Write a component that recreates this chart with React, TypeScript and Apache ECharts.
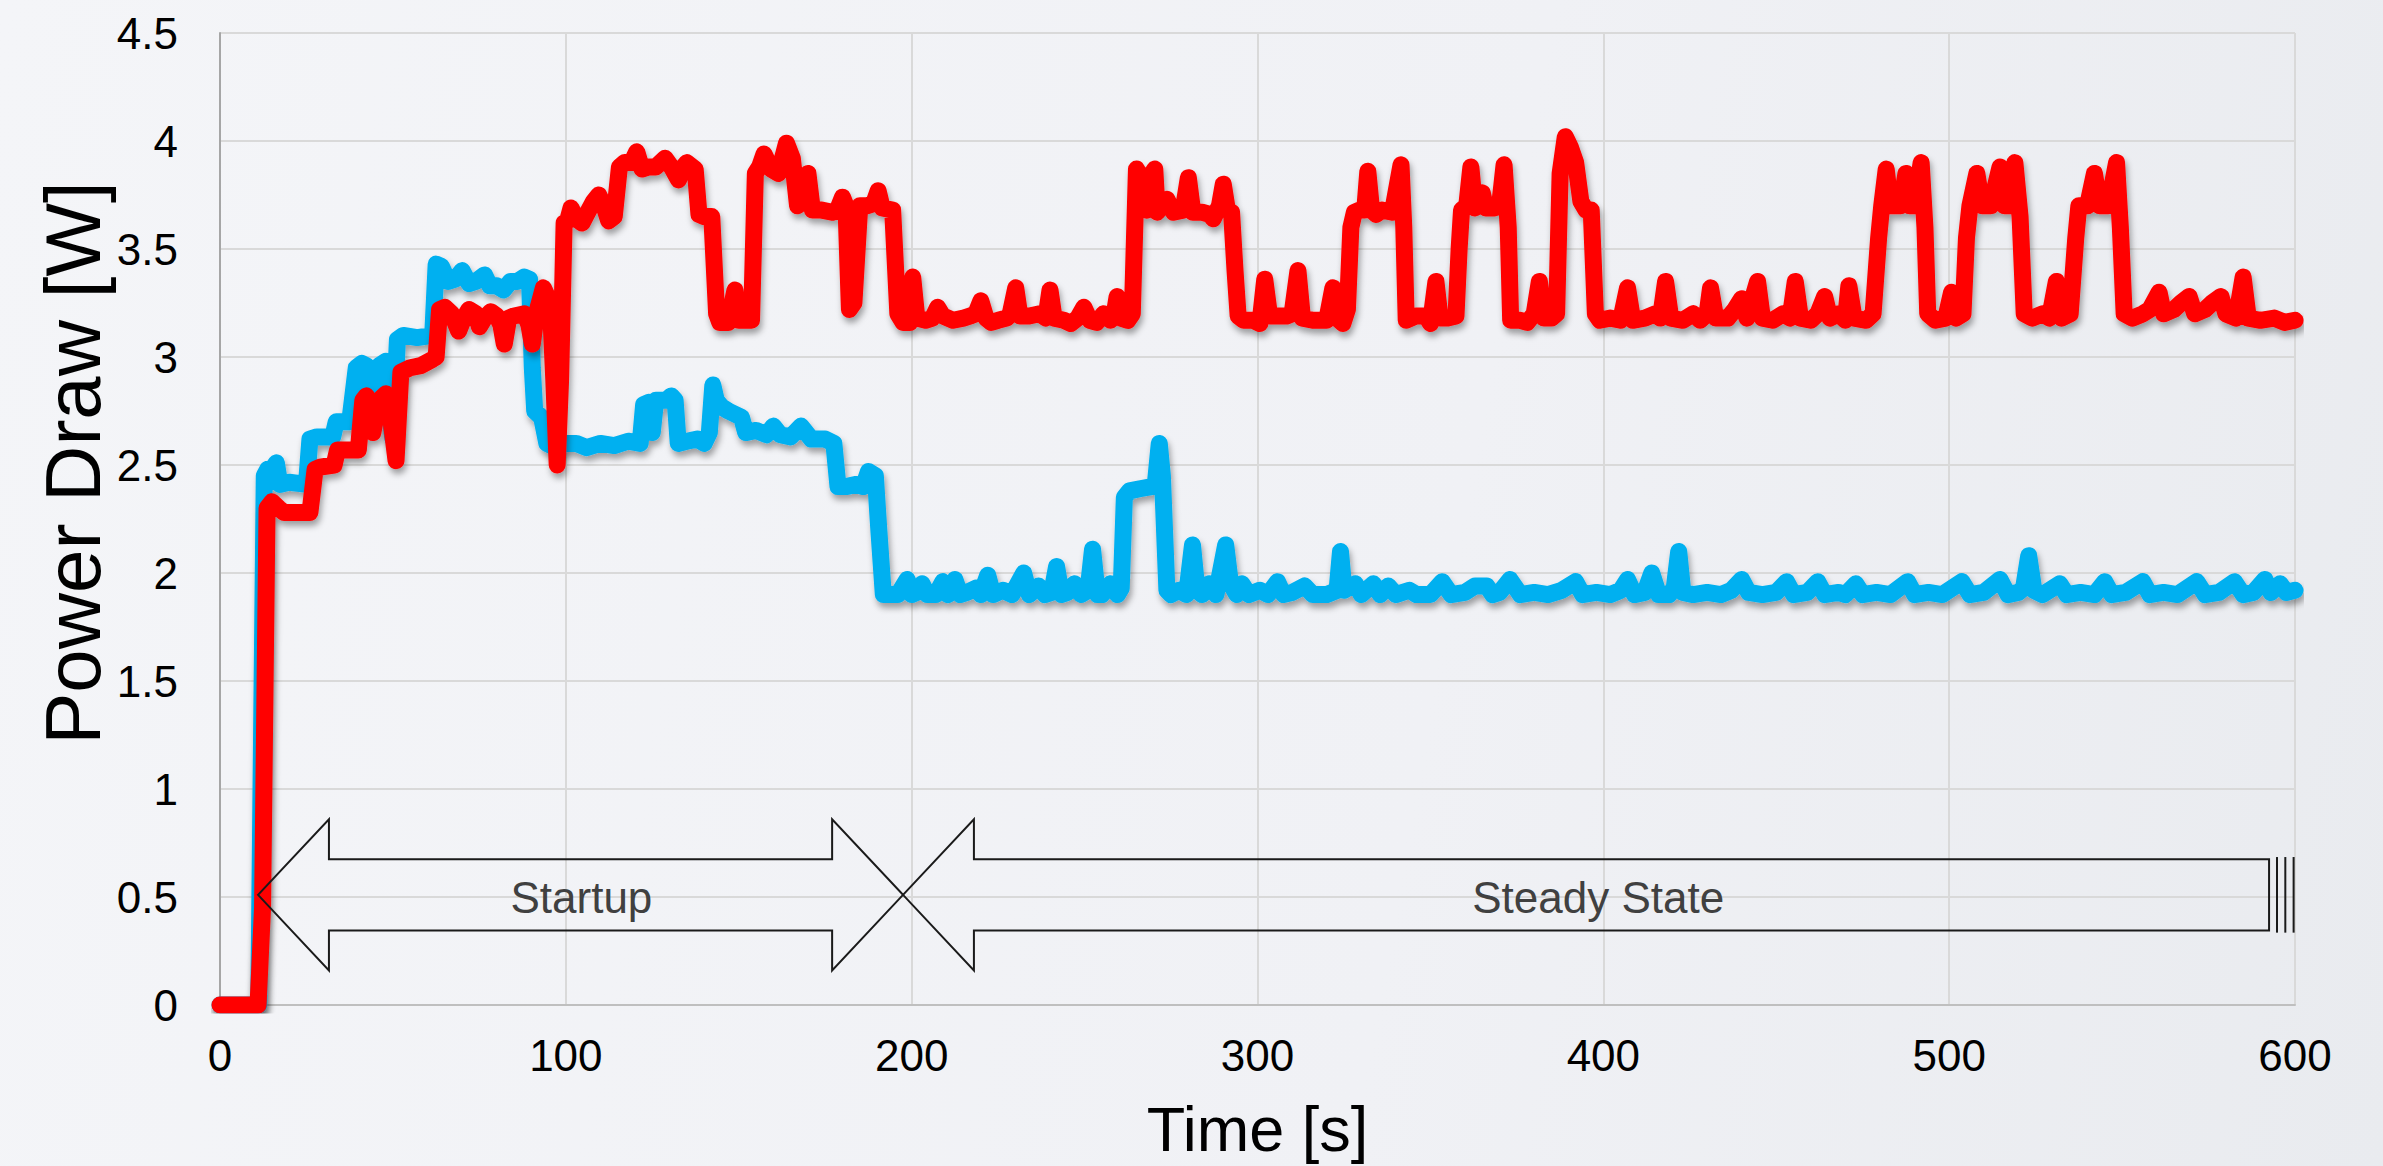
import React, { useEffect, useRef } from "react";
import * as echarts from "echarts";

// ---- data (time [s], power [W]) ----
const bluePoints: [number, number][] = [
  [0, 0], [11.2, 0], [12.8, 2.45], [13.8, 2.48], [15, 2.48], [16.3, 2.51], [17.3, 2.41], [20, 2.42], [25, 2.41],
  [26, 2.62], [28, 2.63], [32.6, 2.63], [33.6, 2.7], [37.5, 2.7], [39.4, 2.95], [41, 2.97], [42.3, 2.96],
  [44.2, 2.82], [46, 2.96], [48, 2.98], [49, 2.75], [50, 2.62], [51.3, 3.08], [53, 3.1], [57, 3.09], [61.5, 3.1],
  [62.5, 3.43], [64, 3.42], [66, 3.35], [68, 3.36], [70, 3.4], [72, 3.34], [74, 3.35], [76.5, 3.38], [78, 3.33],
  [80, 3.33], [82, 3.31], [84, 3.35], [86, 3.35], [88, 3.37], [89.5, 3.36], [90.3, 2.95], [91, 2.75], [93, 2.72],
  [94.5, 2.6], [97, 2.58], [100, 2.6], [103, 2.6], [106, 2.58], [110, 2.6], [114, 2.59], [118, 2.61], [121.5, 2.6],
  [122.5, 2.78], [124, 2.79], [125, 2.65], [126, 2.8], [129, 2.8], [130.5, 2.82], [131.6, 2.8], [132.5, 2.6],
  [135, 2.61], [138, 2.62], [140, 2.6], [141.5, 2.65], [142.5, 2.87], [143.5, 2.8], [145, 2.77], [147, 2.75],
  [150.8, 2.72], [152, 2.65], [155, 2.66], [158, 2.64], [160, 2.68], [162, 2.64], [165, 2.63], [168, 2.68],
  [169.5, 2.65], [171, 2.62], [175, 2.62], [177.5, 2.6], [178.7, 2.4], [181, 2.4], [184, 2.41], [186, 2.4],
  [187.5, 2.47], [189.5, 2.45], [190.5, 2.2], [191.8, 1.9], [194, 1.9], [196, 1.9], [198.7, 1.97], [200, 1.9],
  [201.5, 1.91], [203, 1.95], [204.5, 1.9], [207, 1.9], [209, 1.96], [210.5, 1.9], [212.5, 1.97], [214, 1.9],
  [216, 1.91], [218.6, 1.93], [220, 1.9], [222, 1.99], [223.5, 1.9], [226.4, 1.92], [229, 1.9], [232.4, 2.0],
  [234, 1.9], [236.7, 1.94], [238.5, 1.9], [240.5, 1.91], [241.9, 2.03], [243.3, 1.9], [245, 1.91], [247.1, 1.95],
  [249, 1.9], [251, 1.92], [252.3, 2.11], [253.7, 1.9], [255, 1.9], [257.5, 1.95], [259.5, 1.9], [260.6, 1.93],
  [261.5, 2.35], [263, 2.38], [266, 2.39], [269.4, 2.4], [270.5, 2.42], [271.6, 2.6], [272.5, 2.45], [273.8, 1.92],
  [275, 1.9], [277.3, 1.92], [279.5, 1.9], [281.2, 2.13], [282.5, 1.92], [284, 1.9], [286, 1.95], [288, 1.9],
  [290.8, 2.13], [292.2, 1.95], [294, 1.9], [295.5, 1.95], [297.5, 1.9], [300.7, 1.92], [303, 1.9], [305.8, 1.96],
  [307.5, 1.9], [310, 1.91], [313.6, 1.94], [316, 1.9], [320, 1.9], [323, 1.92], [324, 2.1], [325, 1.92],
  [328.3, 1.95], [330, 1.9], [333.5, 1.95], [335.5, 1.9], [337.8, 1.94], [340, 1.9], [343.9, 1.92], [346, 1.9],
  [350, 1.9], [353.4, 1.96], [356, 1.9], [360, 1.91], [362.9, 1.94], [366.3, 1.94], [368, 1.9], [370, 1.91],
  [373, 1.97], [376, 1.9], [380, 1.91], [384, 1.9], [388, 1.92], [392, 1.96], [394, 1.9], [398, 1.91], [402, 1.9],
  [405, 1.92], [407, 1.97], [409, 1.9], [412, 1.91], [414, 2.0], [416, 1.9], [419, 1.9], [420.5, 1.93],
  [421.8, 2.1], [423, 1.91], [426, 1.9], [430, 1.91], [434, 1.9], [437, 1.92], [440, 1.97], [442, 1.91], [446, 1.9],
  [450, 1.91], [453, 1.96], [455, 1.9], [459, 1.91], [462, 1.96], [464, 1.9], [468, 1.91], [470, 1.9], [473, 1.95],
  [475, 1.9], [479, 1.91], [483, 1.9], [488, 1.96], [490, 1.9], [494, 1.91], [498, 1.9], [503.7, 1.96], [506, 1.9],
  [510, 1.91], [514.7, 1.97], [517, 1.9], [520, 1.91], [521.5, 1.93], [523, 2.08], [524.5, 1.92], [527, 1.9],
  [532, 1.95], [534, 1.9], [538, 1.91], [542, 1.9], [545, 1.96], [547, 1.9], [551, 1.91], [556, 1.96], [558, 1.9],
  [562, 1.91], [566, 1.9], [571.6, 1.96], [574, 1.9], [578, 1.91], [582.5, 1.96], [585, 1.9], [588, 1.91],
  [591.3, 1.97], [593, 1.91], [595.7, 1.95], [597.5, 1.91], [600, 1.92],
];

const redPoints: [number, number][] = [
  [0, 0], [11, 0], [12.3, 0.45], [13.6, 2.3], [15, 2.33], [17, 2.3], [18.5, 2.28], [26, 2.28], [27.5, 2.48],
  [29, 2.49], [33, 2.5], [34, 2.57], [40, 2.57], [41.3, 2.8], [42.3, 2.82], [44.2, 2.65], [46, 2.8], [48, 2.83],
  [49.5, 2.7], [50.9, 2.52], [52.3, 2.93], [55, 2.95], [58, 2.96], [61.5, 2.99], [62.5, 3.0], [63.5, 3.22],
  [65, 3.23], [67, 3.2], [69, 3.12], [70.5, 3.18], [72, 3.22], [74, 3.2], [75, 3.14], [76.5, 3.18], [78.3, 3.21],
  [80, 3.19], [81.2, 3.15], [82.2, 3.06], [83.5, 3.18], [85, 3.19], [88, 3.2], [89.3, 3.15], [90.3, 3.06],
  [91.5, 3.2], [93.5, 3.32], [95.5, 3.25], [96.5, 2.9], [97.5, 2.5], [98.5, 2.9], [99.5, 3.62], [100.5, 3.63],
  [101.5, 3.69], [103, 3.64], [104.7, 3.62], [106, 3.66], [108, 3.72], [109.5, 3.75], [111, 3.7], [112.4, 3.63],
  [114, 3.65], [115.5, 3.88], [117, 3.9], [119, 3.9], [120.5, 3.95], [122, 3.87], [124, 3.88], [126, 3.88],
  [128.7, 3.92], [130.5, 3.88], [132.6, 3.82], [134, 3.88], [135, 3.9], [137.4, 3.87], [138.5, 3.66], [140, 3.65],
  [142.2, 3.65], [143.6, 3.2], [144.5, 3.16], [147, 3.16], [148.9, 3.31], [150, 3.17], [153.7, 3.17],
  [154.8, 3.85], [156, 3.88], [157.3, 3.94], [159.4, 3.87], [161.5, 3.85], [163.8, 3.99], [165.5, 3.92],
  [167, 3.7], [168.5, 3.72], [170, 3.85], [171.3, 3.68], [174, 3.68], [177, 3.67], [178.5, 3.68], [180, 3.74],
  [181, 3.7], [182, 3.22], [183.3, 3.25], [185, 3.7], [187, 3.7], [189, 3.71], [190.3, 3.77], [191.5, 3.69],
  [194.5, 3.68], [196, 3.2], [197.5, 3.16], [199.5, 3.16], [200.3, 3.37], [201.5, 3.18], [204, 3.17], [206, 3.18],
  [207.5, 3.23], [209, 3.19], [212, 3.17], [215, 3.18], [217, 3.19], [218.5, 3.2], [220, 3.26], [221.5, 3.18],
  [223, 3.16], [225, 3.17], [227.5, 3.18], [228.5, 3.2], [230.1, 3.32], [231.3, 3.19], [234, 3.19], [237, 3.2],
  [238.8, 3.18], [240, 3.31], [241.2, 3.18], [244, 3.17], [246, 3.155], [248, 3.18], [249.8, 3.23], [251.5, 3.17],
  [253.5, 3.16], [255.5, 3.2], [257.5, 3.17], [258.5, 3.19], [259.4, 3.28], [260.5, 3.18], [262.5, 3.17],
  [263.8, 3.2], [265, 3.87], [266.5, 3.83], [268, 3.68], [269.5, 3.85], [270.3, 3.87], [271, 3.67], [273.8, 3.73],
  [275.7, 3.67], [278.5, 3.68], [280, 3.83], [281.3, 3.67], [284, 3.67], [286.3, 3.66], [287.2, 3.64], [289, 3.7],
  [290.1, 3.8], [291.3, 3.68], [292.5, 3.67], [293.5, 3.4], [294.4, 3.19], [296, 3.17], [298.8, 3.17],
  [300.7, 3.155], [302.1, 3.36], [303.5, 3.19], [306, 3.19], [308.4, 3.19], [310, 3.2], [311.7, 3.4], [313, 3.18],
  [316, 3.17], [320, 3.17], [321.8, 3.32], [323, 3.18], [324.7, 3.155], [326, 3.22], [327, 3.6], [328, 3.67],
  [329.5, 3.68], [331, 3.68], [331.9, 3.86], [333, 3.68], [334.3, 3.66], [336, 3.68], [339, 3.67], [341.5, 3.89],
  [342.3, 3.6], [343, 3.17], [345.8, 3.19], [348.7, 3.19], [350, 3.155], [351.6, 3.35], [352.8, 3.18], [355, 3.18],
  [357.4, 3.19], [358.3, 3.5], [359, 3.68], [360.5, 3.7], [361.7, 3.88], [362.8, 3.69], [364, 3.7], [365, 3.76],
  [366, 3.69], [368.5, 3.69], [370, 3.7], [371.3, 3.89], [372.5, 3.6], [373.2, 3.17], [376, 3.17], [378, 3.16],
  [380, 3.2], [381.5, 3.35], [382.8, 3.18], [385, 3.18], [386.5, 3.2], [387.5, 3.85], [389, 4.02], [390.5, 3.97],
  [392, 3.9], [393.5, 3.72], [395, 3.68], [396.5, 3.68], [397.7, 3.2], [399, 3.17], [402, 3.18], [405, 3.17],
  [407, 3.32], [408.5, 3.17], [412, 3.18], [415, 3.2], [416.5, 3.18], [418, 3.35], [419.5, 3.18], [423, 3.17],
  [426, 3.2], [428, 3.17], [430, 3.2], [431, 3.32], [432.5, 3.18], [436, 3.18], [438, 3.22], [440, 3.27],
  [441.5, 3.18], [444.6, 3.35], [446, 3.18], [449, 3.17], [452, 3.2], [454, 3.18], [455.5, 3.35], [457, 3.18],
  [460, 3.17], [462, 3.2], [464, 3.28], [465.5, 3.18], [468, 3.2], [470, 3.17], [471, 3.33], [472.5, 3.18],
  [476, 3.17], [478, 3.2], [479.6, 3.55], [480.5, 3.7], [481.8, 3.87], [483, 3.7], [486, 3.7], [487.5, 3.85],
  [488.5, 3.7], [490, 3.7], [491.9, 3.9], [493, 3.6], [493.8, 3.2], [496, 3.17], [499, 3.18], [500.7, 3.3],
  [502, 3.18], [504, 3.2], [505, 3.55], [506, 3.7], [508, 3.85], [509.5, 3.7], [512, 3.7], [514.7, 3.88],
  [516, 3.7], [518, 3.7], [519, 3.9], [520.5, 3.65], [521.7, 3.2], [524, 3.18], [527, 3.2], [529, 3.18],
  [531, 3.35], [532.5, 3.18], [535, 3.2], [536.6, 3.55], [537.5, 3.7], [540, 3.7], [542, 3.85], [543.5, 3.7],
  [546, 3.7], [548.4, 3.9], [549.5, 3.6], [550.6, 3.2], [553, 3.18], [556, 3.2], [558, 3.22], [560.7, 3.3],
  [562, 3.2], [565, 3.22], [567, 3.25], [569.4, 3.28], [571, 3.2], [574, 3.22], [576, 3.25], [578.6, 3.28],
  [580, 3.2], [583, 3.18], [585, 3.37], [586.5, 3.18], [590, 3.17], [594, 3.18], [597, 3.16], [600, 3.17],
];

// ---- phase annotations (double arrows) ----
const phaseLabels = ["Startup", "Steady State"];
const phaseStart = [11, 197.5];
const phaseEnd = [197.5, 592.5];
const phaseLabelX = [104.5, 398.5];
const phaseHeadLeft = [1, 1];
const phaseHeadRight = [1, 0];
const breakMarks = [594.8, 597.2, 599.6];

const FONT = "'Liberation Sans', Arial, Helvetica, sans-serif";

export default function App() {
  const ref = useRef<HTMLDivElement>(null);

  useEffect(() => {
    document.body.style.margin = "0";
    if (!ref.current) return;
    const chart = echarts.init(ref.current, undefined, { renderer: "svg" });

    const arrowData = phaseLabels.map((_, i) => [
      phaseStart[i], phaseEnd[i], phaseHeadLeft[i], phaseHeadRight[i], phaseLabelX[i],
    ]);

    const mid = 0.51;
    const shaft = 0.165;
    const headH = 0.35;
    const headL = 20.5;

    const shadow = {
      shadowColor: "rgba(0,0,0,0.35)",
      shadowBlur: 6,
      shadowOffsetX: 2,
      shadowOffsetY: 5,
    };

    chart.setOption({
      animation: false,
      backgroundColor: "transparent",
      graphic: [
        {
          type: "text",
          x: 73,
          y: 463,
          rotation: Math.PI / 2,
          style: {
            text: "Power Draw [W]",
            fontSize: 78,
            fontFamily: FONT,
            fill: "#000",
            align: "center",
            verticalAlign: "middle",
          },
        },
      ],
      grid: { left: 220, right: 88, top: 33, bottom: 161, containLabel: false },
      xAxis: {
        type: "value",
        min: 0,
        max: 600,
        interval: 100,
        name: "Time [s]",
        nameLocation: "middle",
        nameGap: 92,
        nameTextStyle: { fontSize: 63, color: "#000", fontFamily: FONT },
        axisLine: { show: true, lineStyle: { color: "#bfbfbf", width: 2 } },
        axisTick: { show: false },
        axisLabel: { fontSize: 44, color: "#000", fontFamily: FONT, margin: 28 },
        splitLine: { show: true, lineStyle: { color: "#d9d9d9", width: 2 } },
      },
      yAxis: {
        type: "value",
        min: 0,
        max: 4.5,
        interval: 0.5,
        axisLine: { show: true, lineStyle: { color: "#a6a6a6", width: 2 } },
        axisTick: { show: false },
        axisLabel: { fontSize: 44, color: "#000", fontFamily: FONT, margin: 42 },
        splitLine: { show: true, lineStyle: { color: "#d9d9d9", width: 2 } },
      },
      series: [
        {
          type: "line",
          data: bluePoints,
          showSymbol: false,
          symbol: "none",
          lineStyle: { color: "#00B0F0", width: 17, cap: "round", join: "round", ...shadow },
          z: 3,
        },
        {
          type: "line",
          data: redPoints,
          showSymbol: false,
          symbol: "none",
          lineStyle: { color: "#FF0000", width: 17, cap: "round", join: "round", ...shadow },
          z: 4,
        },
        {
          type: "custom",
          data: arrowData,
          z: 5,
          silent: true,
          clip: false,
          encode: { x: [0, 1] },
          renderItem: (params: any, api: any) => {
            const x1 = api.value(0);
            const x2 = api.value(1);
            const hl = api.value(2);
            const hr = api.value(3);
            const lx = api.value(4);
            const P = (x: number, y: number) => api.coord([x, y]);
            const pts: number[][] = [];
            if (hl) pts.push(P(x1, mid), P(x1 + headL, mid + headH), P(x1 + headL, mid + shaft));
            else pts.push(P(x1, mid + shaft));
            if (hr)
              pts.push(
                P(x2 - headL, mid + shaft), P(x2 - headL, mid + headH), P(x2, mid),
                P(x2 - headL, mid - headH), P(x2 - headL, mid - shaft),
              );
            else pts.push(P(x2, mid + shaft), P(x2, mid - shaft));
            if (hl) pts.push(P(x1 + headL, mid - shaft), P(x1 + headL, mid - headH));
            else pts.push(P(x1, mid - shaft));

            const children: any[] = [
              {
                type: "polygon",
                shape: { points: pts },
                style: { fill: "rgba(255,255,255,0)", stroke: "#1a1a1a", lineWidth: 2 },
              },
            ];
            if (!hr) {
              breakMarks.forEach((bx) => {
                const a = P(bx, mid + shaft + 0.01);
                const b = P(bx, mid - shaft - 0.01);
                children.push({
                  type: "line",
                  shape: { x1: a[0], y1: a[1], x2: b[0], y2: b[1] },
                  style: { stroke: "#1a1a1a", lineWidth: 2 },
                });
              });
            }
            const c = P(lx, mid - 0.01);
            children.push({
              type: "text",
              x: c[0],
              y: c[1],
              style: {
                text: phaseLabels[params.dataIndex],
                fontSize: 44,
                fontFamily: FONT,
                fill: "#404040",
                align: "center",
                verticalAlign: "middle",
              },
            });
            return { type: "group", children };
          },
        },
      ],
    });

    return () => chart.dispose();
  }, []);

  return (
    <div
      ref={ref}
      style={{
        width: 2383,
        height: 1166,
        background: "linear-gradient(100deg, #f4f5f8 0%, #f0f1f5 60%, #e9ebef 100%)",
      }}
    />
  );
}
